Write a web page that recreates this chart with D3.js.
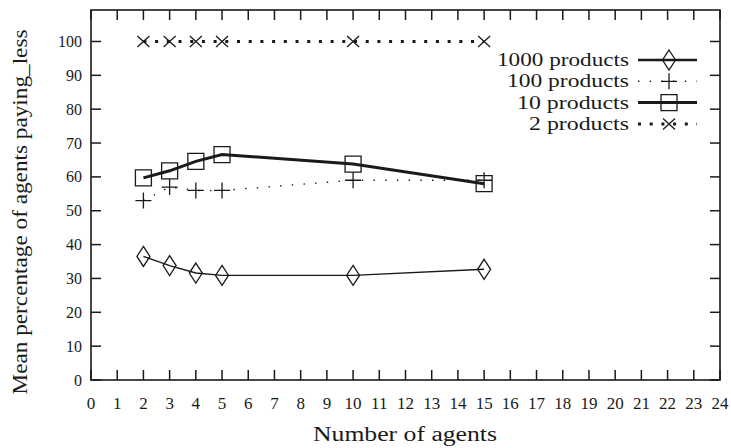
<!DOCTYPE html>
<html>
<head>
<meta charset="utf-8">
<script src="https://cdn.jsdelivr.net/npm/d3@7"></script>
<style>
  body { margin: 0; background: #fff; overflow: hidden; }
  svg { display: block; font-family: "Liberation Serif", "DejaVu Serif", serif; }
</style>
</head>
<body>
<div id="chart"></div>
<script>
//data
const agents = [2, 3, 4, 5, 10, 15];
const seriesNames = ["1000 products", "100 products", "10 products", "2 products"];
const products1000 = [36.5, 33.8, 31.6, 30.9, 30.9, 32.7];
const products100 = [53, 57, 56, 56, 59, 59];
const products10 = [59.7, 61.8, 64.6, 66.6, 63.8, 58];
const products2 = [100, 100, 100, 100, 100, 100];
const xTicks = d3.range(0, 25, 1);
const yTicks = d3.range(0, 101, 10);

//size
const width = 731, height = 448;
const margin = { top: 10, right: 11, bottom: 68, left: 91 };
const innerWidth = width - margin.left - margin.right;
const innerHeight = height - margin.top - margin.bottom;

//scale
const xScale = d3.scaleLinear().domain([0, 24]).range([0, innerWidth]);
const yScale = d3.scaleLinear().domain([0, 109.3]).range([innerHeight, 0]);

const ink = "#1a1a1a";
const styles = [
  { values: products1000, width: 1.4, dash: null, mark: "diamond", legendWidth: 2.4 },
  { values: products100, width: 1.4, dash: "1.4 10.3", mark: "plus", legendWidth: 1.4 },
  { values: products10, width: 3, dash: null, mark: "square", legendWidth: 3 },
  { values: products2, width: 3, dash: "3 8.7", mark: "cross", legendWidth: 3 }
];

const svg = d3.select("#chart").append("svg")
  .attr("width", width).attr("height", height);
const g = svg.append("g").attr("transform", `translate(${margin.left},${margin.top})`);

function markerPath(type) {
  if (type === "diamond") return "M0,-10L6.5,0L0,10L-6.5,0Z";
  if (type === "plus") return "M-8,0H8M0,-8V8";
  if (type === "square") return "M-8,-8H8V8H-8Z";
  return "M-6,-5.5L6,5.5M-6,5.5L6,-5.5";
}

//ticks (mirrored on all sides)
const tickLen = 10;
const ticks = g.append("g").attr("stroke", ink).attr("stroke-width", 1.5);
xTicks.forEach((t) => {
  ticks.append("line").attr("x1", xScale(t)).attr("x2", xScale(t))
    .attr("y1", innerHeight).attr("y2", innerHeight - tickLen);
  ticks.append("line").attr("x1", xScale(t)).attr("x2", xScale(t))
    .attr("y1", 0).attr("y2", tickLen);
});
yTicks.forEach((t) => {
  ticks.append("line").attr("x1", 0).attr("x2", tickLen)
    .attr("y1", yScale(t)).attr("y2", yScale(t));
  ticks.append("line").attr("x1", innerWidth).attr("x2", innerWidth - tickLen)
    .attr("y1", yScale(t)).attr("y2", yScale(t));
});

//frame
g.append("rect").attr("width", innerWidth).attr("height", innerHeight)
  .attr("fill", "none").attr("stroke", ink).attr("stroke-width", 1.6);

//tick labels
g.append("g").selectAll("text").data(xTicks).join("text")
  .attr("x", (d) => xScale(d)).attr("y", innerHeight + 29)
  .attr("text-anchor", "middle").attr("font-size", 17).attr("fill", ink)
  .text((d) => d);
g.append("g").selectAll("text").data(yTicks).join("text")
  .attr("x", -9).attr("y", (d) => yScale(d)).attr("dy", "0.35em")
  .attr("text-anchor", "end").attr("font-size", 16).attr("fill", ink)
  .text((d) => d);

//axis titles
svg.append("text").attr("x", 405).attr("y", 441)
  .attr("text-anchor", "middle").attr("font-size", 20).attr("fill", ink)
  .attr("textLength", 184).attr("lengthAdjust", "spacingAndGlyphs")
  .text("Number of agents");
svg.append("text").attr("transform", `translate(27,212) rotate(-90)`)
  .attr("text-anchor", "middle").attr("font-size", 20).attr("fill", ink)
  .attr("textLength", 365).attr("lengthAdjust", "spacingAndGlyphs")
  .text("Mean percentage of agents paying_less");

//lines and marks
const line = d3.line().x((d) => xScale(d[0])).y((d) => yScale(d[1]));
styles.forEach((s) => {
  const pts = agents.map((a, i) => [a, s.values[i]]);
  g.append("path").datum(pts).attr("d", line)
    .attr("fill", "none").attr("stroke", ink).attr("stroke-width", s.width)
    .attr("stroke-dasharray", s.dash);
  g.append("g").selectAll("path").data(pts).join("path")
    .attr("transform", (d) => `translate(${xScale(d[0])},${yScale(d[1])})`)
    .attr("d", markerPath(s.mark))
    .attr("fill", "none").attr("stroke", ink).attr("stroke-width", 1.3);
});

//legend
const legend = svg.append("g").attr("transform", "translate(629,0)");
const legendLen = [132, 122, 112, 100];
seriesNames.forEach((name, i) => {
  const s = styles[i];
  const y = 60 + i * 21.3;
  legend.append("text").attr("x", 0).attr("y", y).attr("dy", "0.33em")
    .attr("text-anchor", "end").attr("font-size", 18).attr("fill", ink)
    .attr("textLength", legendLen[i]).attr("lengthAdjust", "spacingAndGlyphs")
    .text(name);
  legend.append("line").attr("x1", 9).attr("x2", 68).attr("y1", y).attr("y2", y)
    .attr("stroke", ink).attr("stroke-width", s.legendWidth)
    .attr("stroke-dasharray", s.dash);
  legend.append("path").attr("transform", `translate(40,${y})`)
    .attr("d", markerPath(s.mark))
    .attr("fill", "none").attr("stroke", ink).attr("stroke-width", 1.3);
});
</script>
</body>
</html>
